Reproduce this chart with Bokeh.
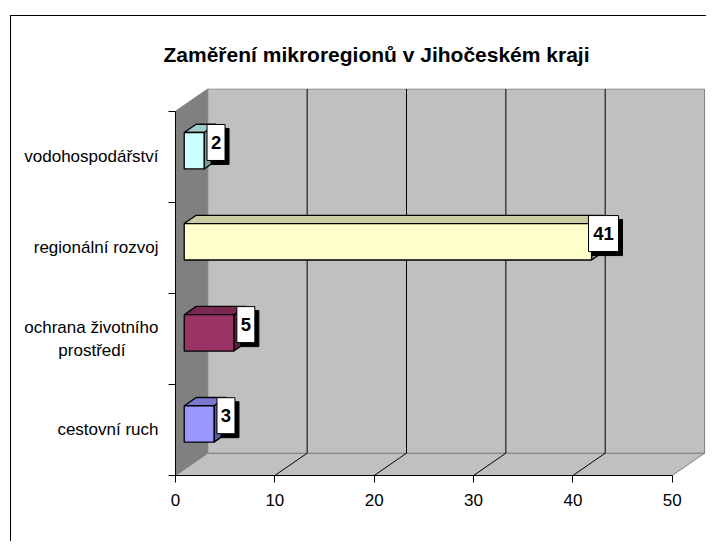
from bokeh.plotting import figure
from bokeh.models import Range1d, FixedTicker, LinearAxis
from bokeh.core.properties import value
from bokeh.embed import file_html
from bokeh.resources import INLINE

# ---- data ----
title_text = "Zaměření mikroregionů v Jihočeském kraji"
categories = ["cestovní ruch", "ochrana životního\nprostředí" + "\u00a0" * 7, "regionální rozvoj", "vodohospodářství"]
values = [3, 5, 41, 2]
front_colors = ["#9999FF", "#993366", "#FFFFCC", "#CCFFFF"]
x_ticks = [0, 10, 20, 30, 40, 50]

# ---- geometry constants ----
XMAX = 50
XS = 9.935          # px per value unit
YS = 91.07          # px per category
DX = 32.3 / XS      # depth offset in x units
DY = 22.3 / YS      # depth offset in y units
Z0, Z1 = 0.27, 0.64
BH = 0.4
FONT = "Liberation Sans"
FRAME_W = 531
FRAME_H = 387
ncat = len(categories)

def shade(hexc, f):
    h = hexc.lstrip("#")
    r, g, b = (int(h[i:i + 2], 16) for i in (0, 2, 4))
    return "#%02x%02x%02x" % (int(r * f), int(g * f), int(b * f))

p = figure(
    output_backend="svg", toolbar_location=None,
    frame_width=FRAME_W, frame_height=FRAME_H,
    min_border_left=164, min_border_right=0, min_border_top=72, min_border_bottom=66,
    x_range=Range1d(0, FRAME_W / XS), y_range=Range1d(0, FRAME_H / YS),
    x_axis_location=None, y_axis_location=None,
    title=title_text,
)
p.styles = {"margin-left": "10px", "margin-top": "15px",
            "border-left": "1px solid black", "border-top": "1px solid black"}
p.title.align = "left"
p.title.offset = -12
p.title.standoff = 45
p.title.text_font = FONT
p.title.text_font_size = "21px"
p.title.text_font_style = "bold"
p.title.text_color = "black"
p.outline_line_color = None
p.xgrid.visible = False
p.ygrid.visible = False
p.background_fill_color = "white"
p.border_fill_color = "white"

# walls
p.patch([0, DX, DX, 0], [0, DY, ncat + DY, ncat], fill_color="#808080", line_color="#808080")
p.patch([0, XMAX, XMAX + DX, DX], [0, 0, DY, DY], fill_color="#c0c0c0", line_color="#808080")
p.quad(left=DX, right=XMAX + DX, bottom=DY, top=ncat + DY, fill_color="#c0c0c0", line_color="#808080")

# gridlines
inner = [t for t in x_ticks if 0 < t < XMAX]
p.segment(x0=[t + DX for t in inner], y0=[DY] * len(inner), x1=[t + DX for t in inner],
          y1=[ncat + DY] * len(inner), line_color="black", line_width=1)
p.segment(x0=inner, y0=[0] * len(inner), x1=[t + DX for t in inner], y1=[DY] * len(inner),
          line_color="black", line_width=1)

# bars
d = (Z1 - Z0) * DX
e = (Z1 - Z0) * DY
lbl_x, lbl_y, lbl_w, lbl_t = [], [], [], []
for i, (v, c) in enumerate(zip(values, front_colors)):
    yc = i + 0.5
    x0 = Z0 * DX
    x1 = v + Z0 * DX
    yb = yc - BH / 2 + Z0 * DY
    yt = yc + BH / 2 + Z0 * DY
    p.patch([x1, x1, x1 + d, x1 + d], [yb, yt, yt + e, yb + e], fill_color=shade(c, 0.6),
            line_color="black", line_width=1.3)
    p.patch([x0, x1, x1 + d, x0 + d], [yt, yt, yt + e, yt + e], fill_color=shade(c, 0.8),
            line_color="black", line_width=1.3)
    p.quad(left=x0, right=x1, bottom=yb, top=yt, fill_color=c, line_color="black", line_width=1.3)
    lbl_x.append(x1 + d)
    lbl_y.append(yc + Z0 * DY + e)
    lbl_w.append(6 + 12 * len(str(v)))
    lbl_t.append(str(v))

# value labels with shadow
p.rect(x=[x + 4 / XS for x in lbl_x], y=[y - 4 / YS for y in lbl_y], width=lbl_w, height=36,
       width_units="screen", height_units="screen", fill_color="black", line_color="black")
p.rect(x=lbl_x, y=lbl_y, width=lbl_w, height=36, width_units="screen", height_units="screen",
       fill_color="white", line_color="black", line_width=1)
p.text(x=lbl_x, y=lbl_y, text=lbl_t, text_font=value(FONT), text_font_style="bold",
       text_font_size="18.5px", text_align="center", text_baseline="middle", text_color="black")

# axes
xa = LinearAxis(ticker=FixedTicker(ticks=x_ticks), bounds=(0, XMAX))
xa.major_tick_out = 7
xa.major_tick_in = 0
xa.minor_tick_line_color = None
xa.major_label_standoff = 11
xa.major_label_text_font = FONT
xa.major_label_text_font_size = "17px"
xa.major_label_text_color = "black"
xa.axis_line_color = "black"
xa.major_tick_line_color = "black"
p.add_layout(xa, "below")

ya = LinearAxis(ticker=FixedTicker(ticks=[i + 0.5 for i in range(ncat)],
                                   minor_ticks=list(range(ncat + 1))), bounds=(0, ncat))
ya.major_label_overrides = {i + 0.5: categories[i] for i in range(ncat)}
ya.major_tick_line_color = None
ya.major_tick_out = 0
ya.major_tick_in = 0
ya.minor_tick_out = 7
ya.minor_tick_in = 0
ya.minor_tick_line_color = "black"
ya.major_label_standoff = 10
ya.major_label_text_font = FONT
ya.major_label_text_font_size = "17px"
ya.major_label_text_color = "black"
ya.axis_line_color = "black"
p.add_layout(ya, "left")

open("out.html", "w").write(file_html(p, INLINE))
